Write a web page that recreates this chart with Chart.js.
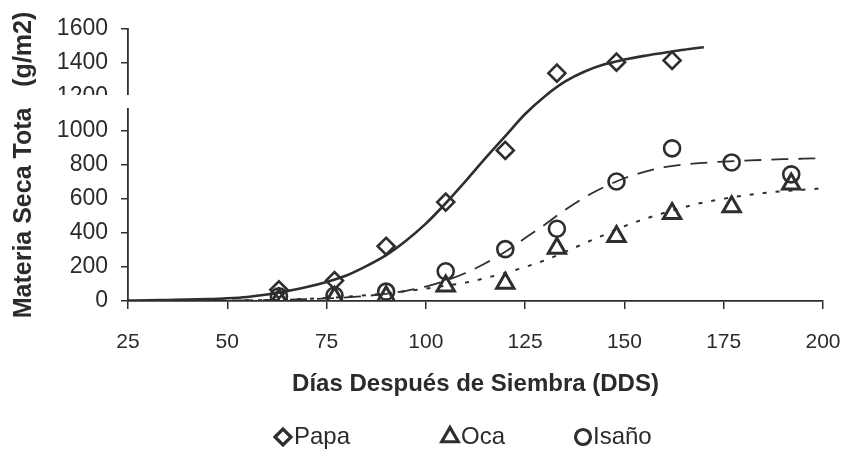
<!DOCTYPE html>
<html>
<head>
<meta charset="utf-8">
<script src="https://cdn.jsdelivr.net/npm/chart.js@4.4.1/dist/chart.umd.min.js"></script>
<style>
  html, body { margin: 0; padding: 0; background: #ffffff; }
  #wrap { width: 850px; height: 449px; position: relative; }
</style>
</head>
<body>
<div id="wrap"><canvas id="c" width="850" height="449"></canvas></div>
<script>
// ---- observed data ----
const days = [63, 77, 90, 105, 120, 133, 148, 162, 177, 192];
const papaObs = [66, 120, 322, 582, 886, 1340, 1405, 1415];
const ocaObs = [10, 20, 25, 88, 105, 310, 380, 515, 555, 688];
const isanoObs = [28, 32, 55, 175, 305, 425, 703, 898, 815, 745];

// ---- fitted curves ----
const papaFitDays = [25, 30, 35, 40, 45, 50, 55, 60, 65, 70, 75, 80, 85, 90, 95, 100, 105, 110, 115, 120, 125, 130, 135, 140, 145, 150, 155, 160, 165, 170];
const papaFit = [3, 4, 6, 8, 11, 16, 24, 38, 58, 82, 112, 150, 205, 270, 355, 455, 575, 705, 840, 970, 1100, 1205, 1290, 1350, 1392, 1420, 1442, 1460, 1478, 1493];

const fitDays = [25, 30, 35, 40, 45, 50, 55, 60, 65, 70, 75, 80, 85, 90, 95, 100, 105, 110, 115, 120, 125, 130, 135, 140, 145, 150, 155, 160, 165, 170, 175, 180, 185, 190, 195, 200];
const isanoFit = [0, 0, 1, 1, 2, 3, 4, 6, 8, 11, 15, 21, 30, 42, 60, 85, 120, 165, 222, 290, 370, 450, 535, 610, 672, 722, 760, 787, 803, 813, 820, 825, 830, 834, 837, 840];
const ocaFit = [0, 0, 1, 1, 2, 3, 4, 6, 9, 13, 18, 25, 34, 45, 58, 73, 90, 108, 135, 165, 200, 240, 288, 340, 390, 440, 482, 518, 552, 580, 602, 620, 635, 646, 655, 662];

const xTicks = [25, 50, 75, 100, 125, 150, 175, 200];
const yTicks = [0, 200, 400, 600, 800, 1000, 1200, 1400, 1600];

const seriesNames = ['Papa', 'Oca', 'Isaño'];
const xTitle = 'Días Después de Siembra (DDS)';
const yTitle = 'Materia Seca Total  (g/m2)';

const INK = '#2e2e2e';
const FONT = "'Liberation Sans', Arial, Helvetica, sans-serif";

function pts(xs, ys) { return ys.map((v, i) => ({ x: xs[i], y: v })); }

const datasets = [
  { label: seriesNames[0], type: 'scatter', data: pts(days, papaObs), pointStyle: 'rectRot', pointRadius: 8.5,
    borderColor: INK, backgroundColor: 'rgba(0,0,0,0)', pointBorderWidth: 2.6, showLine: false, order: 1 },
  { label: seriesNames[1], type: 'scatter', data: pts(days, ocaObs), pointStyle: 'triangle', pointRadius: 10,
    borderColor: INK, backgroundColor: 'rgba(0,0,0,0)', pointBorderWidth: 3, showLine: false, order: 1 },
  { label: seriesNames[2], type: 'scatter', data: pts(days, isanoObs), pointStyle: 'circle', pointRadius: 8,
    borderColor: INK, backgroundColor: 'rgba(0,0,0,0)', pointBorderWidth: 2.6, showLine: false, order: 1 },
  { label: 'fitPapa', type: 'line', data: pts(papaFitDays, papaFit), borderColor: INK, borderWidth: 2.6,
    pointRadius: 0, cubicInterpolationMode: 'monotone', fill: false, order: 2 },
  { label: 'fitOca', type: 'line', data: pts(fitDays, ocaFit), borderColor: INK, borderWidth: 2,
    borderDash: [4, 9], pointRadius: 0, cubicInterpolationMode: 'monotone', fill: false, order: 2 },
  { label: 'fitIsano', type: 'line', data: pts(fitDays, isanoFit), borderColor: INK, borderWidth: 1.8,
    borderDash: [17, 10], pointRadius: 0, cubicInterpolationMode: 'monotone', fill: false, order: 2 }
];

// custom legend drawn under the axis title
const legendPlugin = {
  id: 'customLegend',
  afterDraw(chart) {
    const ctx = chart.ctx;
    const items = [
      { ds: 0, mx: 283, tx: 294 },
      { ds: 1, mx: 450, tx: 461 },
      { ds: 2, mx: 583, tx: 593 }
    ];
    const cy = 437;
    ctx.save();
    items.forEach(it => {
      const d = chart.data.datasets[it.ds];
      ctx.strokeStyle = d.borderColor;
      ctx.fillStyle = 'rgba(0,0,0,0)';
      ctx.lineWidth = 3.2;
      const r = d.pointStyle === 'triangle' ? 9.5 : (d.pointStyle === 'rectRot' ? 8 : 7.5);
      Chart.helpers.drawPoint(ctx, { pointStyle: d.pointStyle, radius: r, rotation: 0, borderWidth: 3.2 }, it.mx, cy);
      ctx.fillStyle = '#2b2b2b';
      ctx.font = '24px ' + FONT;
      ctx.textAlign = 'left';
      ctx.textBaseline = 'middle';
      ctx.fillText(d.label, it.tx, cy);
    });
    ctx.restore();
  }
};

// white break band across the left axis (as in the original figure)
const breakPlugin = {
  id: 'axisBreak',
  afterDraw(chart) {
    const ctx = chart.ctx;
    ctx.save();
    ctx.fillStyle = '#ffffff';
    ctx.fillRect(0, 95, 136, 13);
    ctx.restore();
  }
};

new Chart(document.getElementById('c'), {
  data: { datasets },
  options: {
    responsive: false,
    animation: false,
    layout: { padding: { left: 0, right: 27, top: 29, bottom: 44 } },
    plugins: {
      legend: { display: false },
      tooltip: { enabled: false }
    },
    scales: {
      x: {
        type: 'linear', min: 25, max: 200,
        afterBuildTicks: s => { s.ticks = xTicks.map(v => ({ value: v })); },
        afterFit: s => { s.height = 104; s.paddingLeft = 0; s.paddingRight = 0; },
        ticks: { color: '#2b2b2b', font: { size: 21, family: FONT }, padding: 21, maxRotation: 0, callback: v => String(v) },
        grid: { display: true, drawOnChartArea: false, drawTicks: true, tickLength: 8, color: INK, lineWidth: 1.5 },
        border: { display: true, color: INK, width: 1.8 },
        title: { display: true, text: xTitle, color: '#2b2b2b', font: { size: 24, weight: 'bold', family: FONT }, padding: { top: 0, bottom: 6 } }
      },
      y: {
        type: 'linear', min: 0, max: 1600,
        afterBuildTicks: s => { s.ticks = yTicks.map(v => ({ value: v })); },
        afterFit: s => { s.width = 128; },
        ticks: { color: '#2b2b2b', font: { size: 23, family: FONT }, padding: 13, callback: v => String(v) },
        grid: { display: true, drawOnChartArea: false, drawTicks: true, tickLength: 7, color: INK, lineWidth: 1.5 },
        border: { display: true, color: INK, width: 1.8 },
        title: { display: true, text: yTitle, color: '#2b2b2b', font: { size: 25, weight: 'bold', family: FONT }, padding: { top: 9, bottom: 0 } }
      }
    }
  },
  plugins: [legendPlugin, breakPlugin]
});
</script>
</body>
</html>
